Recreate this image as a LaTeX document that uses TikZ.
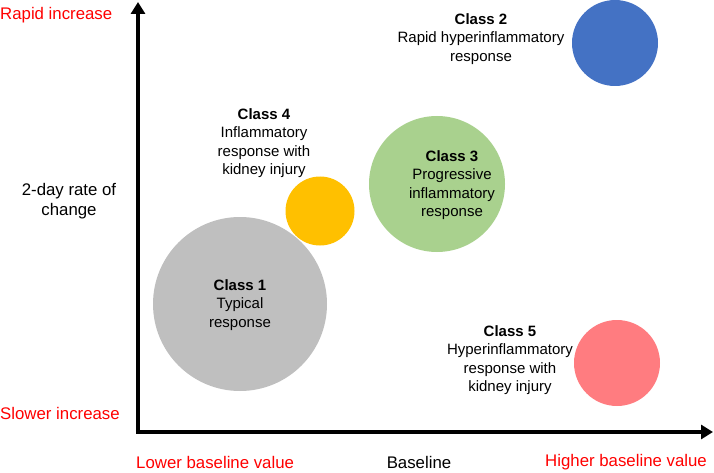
\documentclass[tikz,border=0pt]{standalone}
\usepackage{fontspec}
\setmainfont{Liberation Sans}
\usetikzlibrary{arrows.meta}
\definecolor{cgray}{HTML}{BFBFBF}
\definecolor{corange}{HTML}{FFC000}
\definecolor{cgreen}{HTML}{A9D18E}
\definecolor{cblue}{HTML}{4472C4}
\definecolor{csalmon}{HTML}{FF7C80}
\definecolor{cred}{HTML}{FF0000}
\begin{document}
\begin{tikzpicture}[x=1pt,y=-1pt,
  bubble/.style={circle,draw=none,inner sep=0pt},
  classtext/.style={align=center,inner sep=0pt,font=\fontsize{15}{18.5}\selectfont},
  axlabel/.style={inner sep=0pt,font=\fontsize{16.8}{20}\selectfont},
  redlabel/.style={axlabel,text=cred},
  axis/.style={line width=4.5pt,-{Triangle[length=12pt,width=14pt]}}]
\useasboundingbox (0,0) rectangle (714,473);
% bubbles
\node[bubble,fill=cgray,minimum size=174pt] (c1) at (240,304) {};
\node[bubble,fill=corange,minimum size=69pt] (c4) at (320,211) {};
\node[bubble,fill=cgreen,minimum size=136pt] (c3) at (437,184) {};
\node[bubble,fill=cblue,minimum size=86pt] (c2) at (615,43) {};
\node[bubble,fill=csalmon,minimum size=86pt] (c5) at (617,363) {};
% class texts
\node[classtext] (t1) at (240,305) {\textbf{Class 1}\\Typical\\response};
\node[classtext] (t4) at (264,143) {\textbf{Class 4}\\Inflammatory\\response with\\kidney injury};
\node[classtext] (t3) at (452,185) {\textbf{Class 3}\\Progressive\\inflammatory\\response};
\node[classtext] (t2) at (481,39) {\textbf{Class 2}\\Rapid hyperinflammatory\\response};
\node[classtext] (t5) at (510,360) {\textbf{Class 5}\\Hyperinflammatory\\response with\\kidney injury};
% axes
\coordinate (origin) at (138,432);
\coordinate (ytip) at (138,2);
\coordinate (xtip) at (713,432);
\draw[axis] ([xshift=-2.25pt]origin) -- (xtip);
\draw[axis] ([yshift=2.25pt]origin) -- (ytip);
% axis labels
\node[redlabel,anchor=west] (ri) at (0,15) {Rapid increase};
\node[redlabel,anchor=west] (si) at (0,413) {Slower increase};
\node[axlabel,align=center] (yl) at (69,201) {2-day rate of\\change};
\node[redlabel,anchor=west] (lb) at (136,462) {Lower baseline value};
\node[axlabel] (bl) at (419,462) {Baseline};
\node[redlabel,anchor=east] (hb) at (707,462) {Higher baseline value};
\end{tikzpicture}
\end{document}
